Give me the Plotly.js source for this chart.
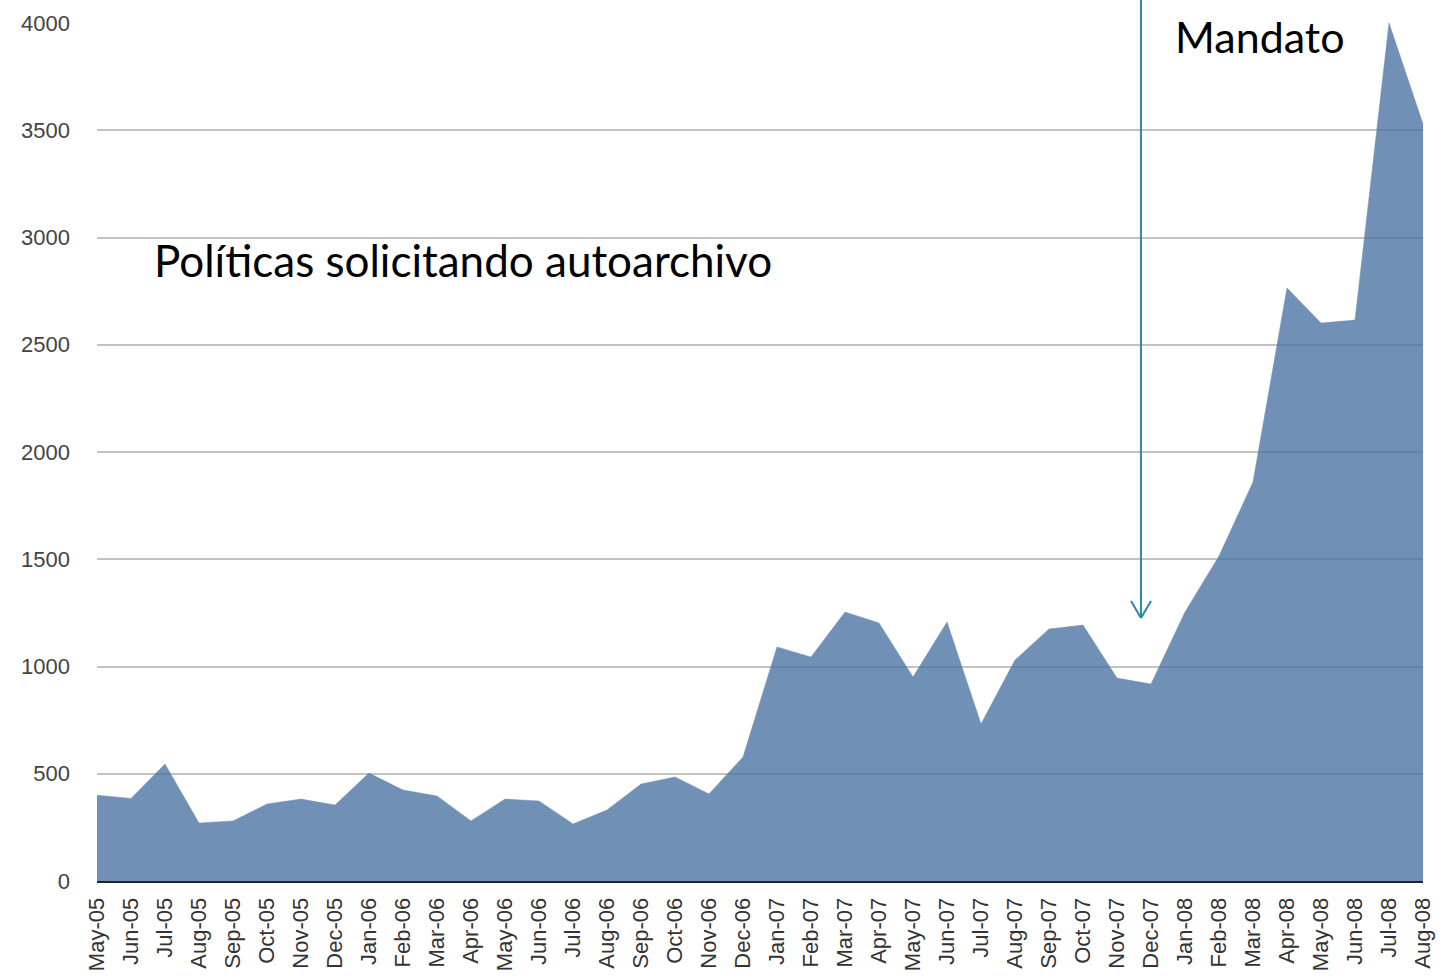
<!DOCTYPE html>
<html>
<head>
<meta charset="utf-8">
<script src="https://cdn.plot.ly/plotly-3.0.1.min.js"></script>
<style>html,body{margin:0;padding:0;background:#fff;}#chart{width:1444px;height:978px;}</style>
</head>
<body>
<div id="chart"></div>
<script>
const months = ["May-05","Jun-05","Jul-05","Aug-05","Sep-05","Oct-05","Nov-05","Dec-05",
  "Jan-06","Feb-06","Mar-06","Apr-06","May-06","Jun-06","Jul-06","Aug-06","Sep-06","Oct-06","Nov-06","Dec-06",
  "Jan-07","Feb-07","Mar-07","Apr-07","May-07","Jun-07","Jul-07","Aug-07","Sep-07","Oct-07","Nov-07","Dec-07",
  "Jan-08","Feb-08","Mar-08","Apr-08","May-08","Jun-08","Jul-08","Aug-08"];
const policies = [400,385,545,270,280,359,382,354,
  503,424,396,280,382,373,266,331,452,485,406,578,
  1091,1044,1254,1203,951,1207,732,1030,1175,1193,946,918,
  1254,1515,1860,2765,2601,2615,4000,3529];
const yTicks = [0,500,1000,1500,2000,2500,3000,3500,4000];

const trace = {
  x: months, y: policies, type: 'scatter', mode: 'lines',
  fill: 'tozeroy', fillcolor: 'rgba(72,113,160,0.78)',
  line: {color: 'rgba(112,144,181,1)', width: 0.5},
  hoverinfo: 'x+y'
};

const layout = {
  width: 1444, height: 978,
  margin: {l: 97, r: 21, t: 23, b: 97},
  paper_bgcolor: '#fff', plot_bgcolor: '#fff',
  showlegend: false,
  xaxis: {
    type: 'category', range: [0, months.length - 1],
    tickangle: -90, showgrid: false, zeroline: false,
    showline: true, linecolor: '#1b2536', linewidth: 2,
    ticks: '', ticklabelstandoff: 6,
    tickfont: {family: 'Liberation Sans, Arial, sans-serif', size: 22, color: '#333'}
  },
  yaxis: {
    range: [0, 4000], tickvals: yTicks, ticktext: yTicks.map(String),
    showgrid: true, gridcolor: '#c2c2c2', gridwidth: 2,
    zeroline: false, showline: false, ticks: '', ticklabelstandoff: 26,
    tickfont: {family: 'Liberation Sans, Arial, sans-serif', size: 22, color: '#444'}
  },
  annotations: [
    {text: 'Políticas solicitando autoarchivo', xref: 'paper', yref: 'paper',
     x: 0.0415, y: 0.7238, xanchor: 'left', yanchor: 'middle', showarrow: false,
     font: {family: 'Lato, sans-serif', size: 44, color: '#000'}},
    {text: 'Mandato', xref: 'paper', yref: 'paper',
     x: 0.8115, y: 0.984, xanchor: 'left', yanchor: 'middle', showarrow: false,
     font: {family: 'Lato, sans-serif', size: 43, color: '#000'}}
  ],
  shapes: [
    {type: 'line', xref: 'paper', yref: 'paper', x0: 0.7873, x1: 0.7873, y0: 1.03, y1: 0.3065,
     line: {color: '#2a8aa6', width: 2}},
    {type: 'line', xref: 'paper', yref: 'paper', x0: 0.7798, x1: 0.7873, y0: 0.3263, y1: 0.3065,
     line: {color: '#2a8aa6', width: 2}},
    {type: 'line', xref: 'paper', yref: 'paper', x0: 0.7949, x1: 0.7873, y0: 0.3263, y1: 0.3065,
     line: {color: '#2a8aa6', width: 2}}
  ]
};

Plotly.newPlot('chart', [trace], layout, {displayModeBar: false, staticPlot: false});
</script>
</body>
</html>
